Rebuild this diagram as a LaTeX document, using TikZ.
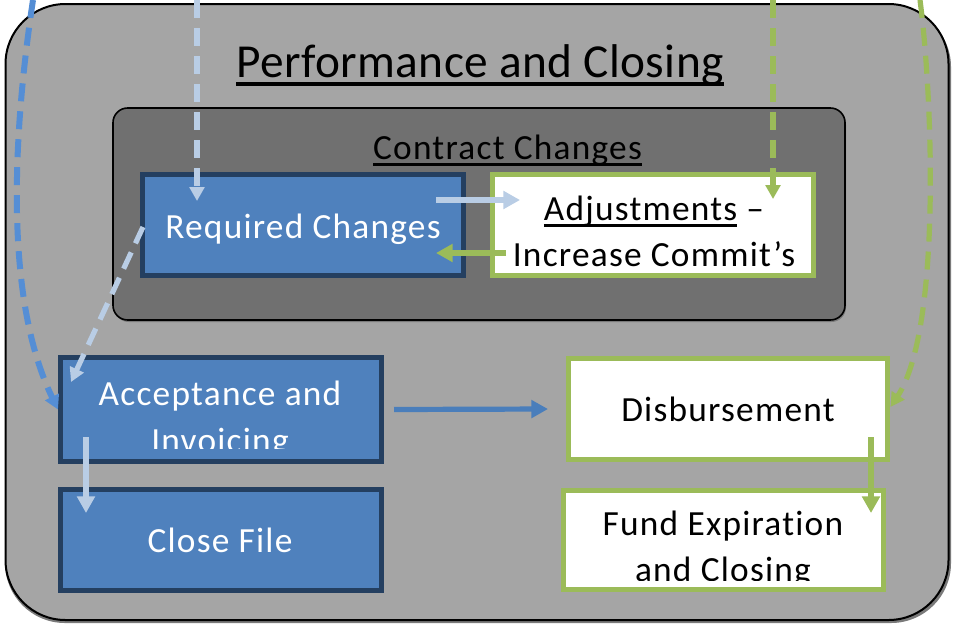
\documentclass[tikz,border=0pt]{standalone}
\usepackage{fontspec}
\setmainfont[LetterSpace=3.5,Ligatures=NoCommon]{Carlito}
\newfontfamily\titlefam[LetterSpace=0.9,Ligatures=NoCommon]{Carlito}
\usetikzlibrary{arrows.meta,calc}
\definecolor{outerfill}{HTML}{A5A5A5}
\definecolor{innerfill}{HTML}{707070}
\definecolor{boxblue}{HTML}{4F81BD}
\definecolor{boxnavy}{HTML}{243F60}
\definecolor{boxgreen}{HTML}{9BBB59}
\definecolor{lightblue}{HTML}{B9CDE5}
\definecolor{midblue}{HTML}{558ED5}
\definecolor{solidblue}{HTML}{4A7EBB}
\definecolor{shadowgray}{HTML}{7A7A7A}
\newsavebox\myulbox
\newcommand{\ulx}[1]{\leavevmode\sbox\myulbox{#1}\rlap{\rule[-0.19em]{\wd\myulbox}{0.075em}}\usebox\myulbox}
\begin{document}
\begin{tikzpicture}[x=0.75pt,y=-0.75pt,
  bluebox/.style={draw=boxnavy, fill=boxblue, line width=3.75pt, outer sep=0pt, inner sep=0pt,
    minimum width=240.75pt, minimum height=75.75pt},
  greenbox/.style={draw=boxgreen, fill=white, line width=3.75pt, outer sep=0pt, inner sep=0pt,
    minimum width=240.75pt, minimum height=75.75pt},
  wtext/.style={text=white, font=\fontsize{26.5}{30}\selectfont, anchor=base, inner sep=0pt},
  ktext/.style={text=black, font=\fontsize{26.5}{30}\selectfont, anchor=base, inner sep=0pt},
  flow/.style={line width=3.9pt, -{Triangle[length=12.5pt,width=13pt]}},
  dflow/.style={line width=3.9pt, dash pattern=on 13.5pt off 7.5pt, -{Triangle[length=10.5pt,width=11pt]}}
]
\useasboundingbox (0,0) rectangle (955,625);
% outer container
\fill[shadowgray, rounded corners=45pt] (5,7) rectangle (951,623);
\node[draw=black, fill=outerfill, line width=1.5pt, rounded corners=45pt, outer sep=0pt, inner sep=0pt,
  minimum width=707.25pt, minimum height=462pt] (outer) at (477,312) {};
\node[ktext, font=\titlefam\fontsize{35.5}{42}\selectfont] (title) at (480,77) {\ulx{Performance and Closing}};
% inner container
\fill[shadowgray, rounded corners=11pt] (114,110) rectangle (846,322);
\node[draw=black, fill=innerfill, line width=1.2pt, rounded corners=11pt, outer sep=0pt, inner sep=0pt,
  minimum width=549pt, minimum height=159pt] (inner) at (479,214) {};
\node[ktext] (cctitle) at (507.5,159) {\ulx{Contract Changes}};
% boxes
\node[bluebox] (req) at (303,225) {};
\node[greenbox] (adj) at (653,225) {};
\node[bluebox, minimum height=78pt] (acc) at (221,409.5) {};
\node[bluebox] (close) at (221,540) {};
\node[greenbox, minimum width=239.25pt] (disb) at (728,409) {};
\node[greenbox, minimum width=240pt, minimum height=74.25pt] (fund) at (723.5,540) {};
% texts
\node[wtext] (reqt) at (303,238.5) {Required Changes};
\node[ktext] (adjt1) at (654,220) {\ulx{Adjustments} –};
\node[ktext] (adjt2) at (654,266) {Increase Commit’s};
\begin{scope}
  \clip (60,357) rectangle (382,448);
  \node[wtext] (acct1) at (220,405) {Acceptance and};
  \node[wtext] (acct2) at (220,452) {Invoicing};
\end{scope}
\node[wtext] (closet) at (220,552) {Close File};
\node[ktext] (disbt) at (728,421.5) {Disbursement};
\begin{scope}
  \clip (563,490) rectangle (884,580);
  \node[ktext] (fundt1) at (723,535) {Fund Expiration};
  \node[ktext] (fundt2) at (723,581) {and Closing};
\end{scope}
% free ends at the top edge
\coordinate (inA) at (197,0);
\coordinate (inB) at (33,0);
\coordinate (inC) at (773,0);
\coordinate (inD) at (920,0);
% dashed incoming connectors
\draw[dflow, lightblue] (inA) -- ($(req.north west)+(54.5,26.5)$);
\draw[dflow, boxgreen] (inC) -- ($(adj.north east)+(-40.5,24.5)$);
\draw[dflow, midblue, line width=4.5pt] (inB) .. controls (12,140) and (5,300) .. ($(acc.west)+(-2.5,0)$);
\draw[dflow, boxgreen] (inD) .. controls (933,100) and (941,330) .. ($(disb.east)+(3,-2)$);
\draw[dflow, lightblue] ($(req.west)+(0.5,2)$) -- ($(acc.north west)+(10.5,24.5)$);
% solid connectors
\draw[flow, lightblue] ($(req.north east)+(-27.5,25.5)$) -- ($(adj.north west)+(27.5,25.5)$);
\draw[flow, boxgreen] ($(adj.south west)+(13.5,-22.5)$) -- ($(req.south east)+(-27.5,-22.5)$);
\draw[flow, solidblue] ($(acc.east)+(12.5,0)$) -- ($(disb.west)+(-20.5,0)$);
\draw[flow, lightblue] ($(acc.south west)+(25.5,-24.5)$) -- ($(close.north west)+(25.5,23.5)$);
\draw[flow, boxgreen] ($(disb.south east)+(-16.5,-22.5)$) -- ($(fund.north east)+(-12.5,22.5)$);
\end{tikzpicture}
\end{document}
